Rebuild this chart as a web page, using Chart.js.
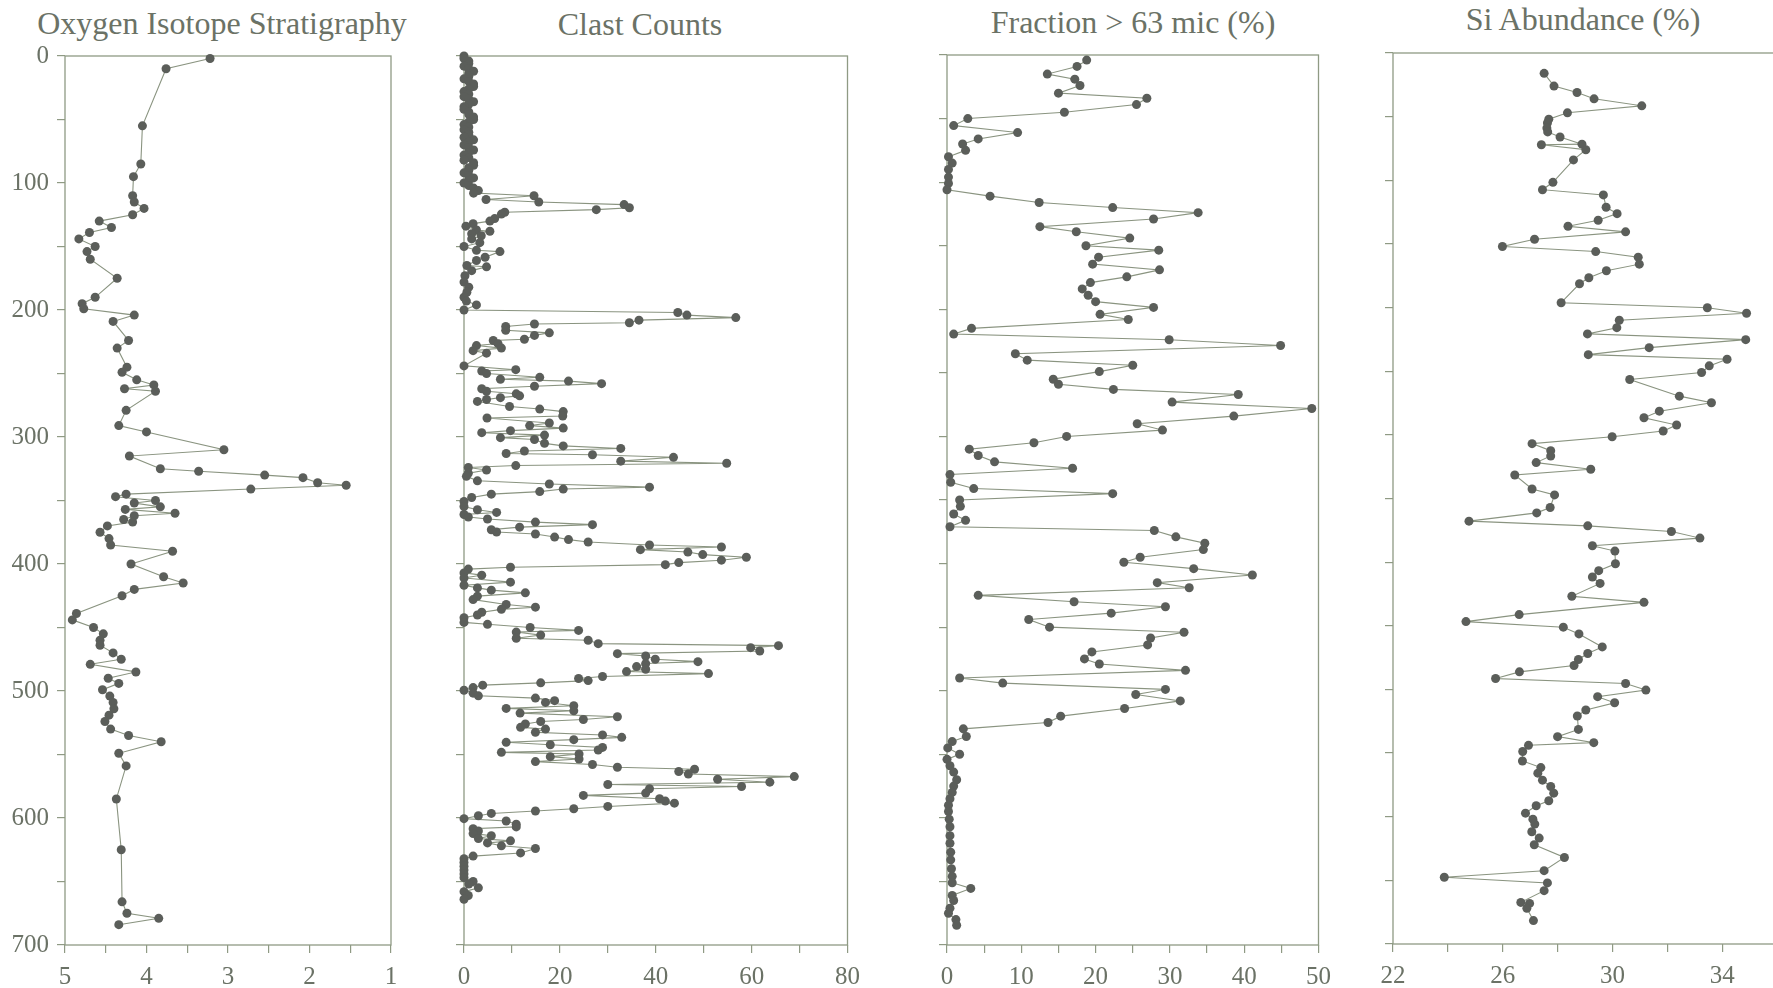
<!DOCTYPE html>
<html>
<head>
<meta charset="utf-8">
<script src="https://cdn.jsdelivr.net/npm/chart.js@4.4.0/dist/chart.umd.min.js"></script>
<style>
  html, body { margin: 0; padding: 0; background: #fff; overflow: hidden; width: 1773px; height: 988px; }
  canvas { position: absolute; }
  .title { position: absolute; font-family: 'Liberation Serif', serif; font-size: 32px; line-height: 32px;
           color: #6b7266; white-space: nowrap; transform: translateX(-50%); }
</style>
</head>
<body>
<div class="title" style="left:222px; top:7px">Oxygen Isotope Stratigraphy</div>
<div class="title" style="left:640px; top:8px">Clast Counts</div>
<div class="title" style="left:1133px; top:6px">Fraction &gt; 63 mic (%)</div>
<div class="title" style="left:1583px; top:3px">Si Abundance (%)</div>
<canvas id="c1"></canvas>
<canvas id="c2"></canvas>
<canvas id="c3"></canvas>
<canvas id="c4"></canvas>
<script>
// depth axis (shared by all four panels)
const depthLabels = [0, 100, 200, 300, 400, 500, 600, 700];

// oxygen isotope panel
const oxyTicks = [5, 4, 3, 2, 1];
const oxyDepth = [2,10,55,85,95,110,115,120,125,130,
  135,139,144,150,154,160,175,190,195,199,
  204,209,224,230,245,249,255,259,262,264,
  279,291,296,310,315,325,327,330,332,336,
  338,341,345,347,350,352,355,357,360,362,
  365,367,370,375,380,385,390,400,410,415,
  420,425,439,444,450,455,460,464,470,475,
  479,485,490,494,499,504,509,514,519,524,
  530,535,540,549,559,585,625,666,675,679,684];
const oxyValue = [3.22,3.76,4.05,4.07,4.16,4.17,4.15,4.03,4.17,4.58,
  4.43,4.70,4.83,4.63,4.73,4.69,4.36,4.63,4.79,4.77,
  4.15,4.41,4.22,4.36,4.24,4.30,4.12,3.91,4.27,3.89,
  4.25,4.34,4.00,3.05,4.21,3.83,3.36,2.55,2.08,1.90,
  1.55,2.72,4.25,4.38,3.89,4.15,3.83,4.26,3.65,4.15,
  4.28,4.17,4.48,4.57,4.46,4.44,3.68,4.19,3.79,3.55,
  4.15,4.30,4.86,4.91,4.65,4.53,4.57,4.57,4.41,4.31,
  4.69,4.13,4.47,4.34,4.54,4.45,4.41,4.40,4.46,4.51,
  4.44,4.22,3.82,4.34,4.25,4.37,4.31,4.30,4.24,3.85,4.34];

// clast counts panel
const clastTicks = [0, 20, 40, 60, 80];
const clastDepth = [0,2,4,6,8,10,12,14,16,18,
  20,22,24,26,28,30,32,34,36,38,
  40,42,44,46,48,50,52,54,56,58,
  60,62,64,66,68,70,72,74,76,78,
  80,82,84,86,88,90,92,94,96,98,
  100,102,104,106,108,
  110,113,115,117,119.5,121,123,124.5,128,130,
  132,134,137,138,140,141.5,144,147,150,153,
  154,158.5,161,165,166,169,173,178,182,186,
  190,193,196,200,202,204,206,208,210,211,
  213,216,218,220,223,224,226.5,228,230,232,
  234,244,247,248,250,253,254.5,256,258,260,
  262,264,266,267.6,269,270.5,272,276,278,280,
  283.5,285,289,291,293,295,296.6,298.5,300.5,302,
  305,307,309,311,313,314,316,319,320.7,322.5,
  324,326,328.5,331,334.5,337,339.5,341,343,345,
  347.6,350.8,354.7,357.3,359.4,361,363,364.6,367,369,
  371,373,374.8,376.4,378.8,380.8,382.7,385,386.6,388.7,
  390.6,392.6,394.7,397,398.9,400.5,402.6,404,407,408.8,
  411,414.3,416.7,418.8,420.6,422.7,425.3,428,431.9,434,
  435.7,438,440.2,442.3,446,447.5,450,452.3,453.6,456,
  458.5,460,462.7,464.3,465.9,468.5,470.6,472.4,475,476.9,
  478.4,480.8,482.9,484.7,486.3,488.6,490.2,491.8,493.6,495.4,
  497.3,499.4,501.7,503.8,505.6,507.6,509,511.6,513.7,515.6,
  517.4,520.3,522.4,524,526,528.6,530,532.5,534.6,536.5,
  538.3,540.4,542.3,544.4,546.5,548.3,549.6,551.7,553.5,555.6,
  557.9,560,561.6,563.4,565.4,567.4,569.5,571.8,573.6,575.2,
  577,580.4,582.2,584.8,586.7,588.3,590.9,592.7,594.5,596.4,
  598.2,600.5,602.4,604.9,607,608.4,610.2,612.3,614,616.2,
  618,619.6,621.9,624,627.5,630,632,635,638,641,
  644,647,650,652,655,658,661,664];
const clastValue = [0,0,1,1,0,1,2,1,1,0,
  1,2,2,1,0,1,0,1,2,1,
  0,0,1,1,2,2,1,0,1,0,
  1,1,0,2,1,0,1,2,1,0,
  1,0,2,2,1,1,0,1,2,1,
  0,1,2,3,2,
  14.6,4.6,15.6,33.4,34.5,27.6,8.5,7.8,6.4,5.4,
  1.9,0.4,2.6,5.4,1.6,3.6,1.6,3.3,0,2.6,
  7.5,4.4,2.6,0.6,4.7,1.6,0.2,0,1,0.6,
  0,0.5,2.6,0,44.6,46.5,56.7,36.5,34.5,14.7,
  8.7,8.7,17.8,14.7,12.6,6.1,7.1,2.6,7.8,1.9,
  4.7,0,10.8,3.7,4.7,15.8,7.6,21.8,28.7,14.7,
  3.7,4.7,10.9,11.6,7.6,4.7,2.8,9.5,15.8,20.7,
  20.6,4.8,17.8,13.7,20.7,9.7,3.7,16.8,7.6,14.7,
  16.8,20.7,32.7,12.6,8.8,26.8,43.7,32.7,54.8,10.8,
  0.9,4.7,0.9,0.5,2.8,17.8,38.7,20.7,15.8,5.7,
  1.6,0,0,2.8,6.8,0,0.9,4.9,14.9,26.8,
  11.6,5.7,6.8,14.9,18.9,21.8,25.9,38.7,53.7,36.8,
  46.7,49.8,58.9,53.7,44.8,42,9.7,0.9,0,3.7,
  0,9.7,0,2.8,5.7,12.8,2.8,1.9,8.8,14.9,
  7.8,3.7,2.8,0,0,4.9,13.8,23.9,10.9,16,
  10.9,25.9,28,65.6,59.8,61.7,32,37.9,39.9,48.8,
  37.9,36,37.9,33.9,51,28.9,23.9,25.9,16,3.9,
  1.9,0,1.9,3,14.9,18.9,17,22.9,8.8,22.9,
  11.7,32,24.9,16,12.8,11.8,17,14.9,28.9,32.9,
  22.9,8.8,18,28.9,28,7.8,24,18,24,14.9,
  26.8,32,48.1,44.8,46.8,68.9,52.9,63.8,30,57.9,
  38.7,37.9,24.9,40.8,42,43.9,30,22.9,14.9,5.7,
  3,0,8.8,10.9,10.9,1.9,3,1.9,5.7,3,
  9.7,4.9,7.8,14.9,11.8,1.9,0,0,0,0,
  0,0,1.9,1,3,0,0.9,0];

// fraction > 63 micron panel
const fracTicks = [0, 10, 20, 30, 40, 50];
const fracDepth = [4,9,15,19,24,30,34,39,45,50,
  55.5,61,66,70,75,80,85,90,96,101,
  106,111,116,120,124,129,135,139,144,150,
  153.5,159,164.5,169,174.5,179,184,189,194,198.5,
  204,208,215,219.5,224,228.5,235,240,244,249,
  255,259,263,267,273,278,284,290,295,300,
  305,310,315,320,325,330,336,341,345,350,
  355,361,366,371,374,379,384,389,395,399,
  404,409,415,419,425,430,434,439,444,450,
  454,458.5,464,469.5,475,479,484,490,494,499,
  503,508,514,520,525,530,536,540,545,550,
  554,559,564,570,575,580,585,590,595,601,
  607,614,620,627,633,640,646,651,655.5,661,
  665,671,675,680,684.5];
const fracValue = [18.8,17.5,13.5,17.2,17.9,15,26.9,25.5,15.8,2.8,
  0.9,9.5,4.2,2.1,2.5,0.2,0.7,0.2,0.2,0.2,
  0,5.8,12.4,22.3,33.8,27.8,12.5,17.4,24.6,18.7,
  28.5,20.4,19.6,28.6,24.2,19.3,18.2,19,20,27.8,
  20.6,24.4,3.3,0.9,29.9,44.9,9.2,10.8,25,20.5,
  14.3,15,22.4,39.2,30.3,49.1,38.6,25.6,29,16.1,
  11.7,3,4.2,6.4,16.9,0.4,0.5,3.6,22.3,1.7,
  1.8,0.9,2.5,0.4,27.9,30.8,34.7,34.5,26,23.8,
  33.2,41.1,28.3,32.6,4.2,17.1,29.4,22.1,11,13.8,
  31.9,27.4,27,19.5,18.5,20.5,32.1,1.7,7.5,29.4,
  25.4,31.4,23.9,15.3,13.6,2.2,2.6,0.7,0.1,1.7,
  0,0.4,0.9,1.3,0.9,0.7,0.4,0.2,0.2,0.3,
  0.4,0.4,0.4,0.5,0.5,0.6,0.7,0.7,3.2,0.7,
  0.9,0.4,0.2,1.2,1.3];

// Si abundance panel
const siTicks = [22, 26, 30, 34];
const siDepth = [16,26,31,36,41.5,47,52,55,59,62,
  66,71.6,72.1,76,84,101.6,107.4,111.5,121.2,126.2,
  131.4,136.1,140.5,146.3,152,156,160.4,165.9,171.1,176.6,
  181.3,196.2,200.1,204.5,210,215.8,220.7,225.2,231.5,237,
  240.6,245.8,251,256.5,269.6,274.8,281.4,286.6,292.3,297,
  301.5,306.9,312.4,316.6,321.8,327,331.5,342.5,347.2,357.1,
  361.3,367.8,371.5,375.9,381.1,387.1,391.3,401.3,406.7,411.7,
  416.7,426.8,431.6,441.2,446.7,451.1,456.4,466.6,471.8,476.5,
  481.2,486.2,491.4,495.3,500.5,505.7,510.5,516.2,520.9,531.4,
  537.1,541.8,543.9,548.8,556.2,561.4,565.8,571.3,576.3,581.5,
  587.5,591.4,597.2,601.9,605.8,611.8,616.8,622,632,642.4,
  647.6,652,658.1,667.3,668.1,672,681.6];
const siValue = [27.51,27.87,28.71,29.33,31.07,28.36,27.68,27.63,27.61,27.64,
  28.09,28.89,27.41,29.03,28.58,27.83,27.45,29.67,29.77,30.17,
  29.48,28.38,30.48,27.16,25.99,29.39,30.94,30.98,29.78,29.14,
  28.8,28.13,33.46,34.89,30.25,30.16,29.09,34.86,31.34,29.12,
  34.18,33.53,33.25,30.63,32.44,33.61,31.71,31.15,32.34,31.85,
  29.99,27.07,27.75,27.75,27.22,29.21,26.44,27.07,27.89,27.73,
  27.24,24.77,29.1,32.15,33.19,29.27,30.09,30.11,29.5,29.27,
  29.55,28.52,31.15,26.6,24.66,28.21,28.78,29.63,29.1,28.76,
  28.6,26.61,25.74,30.48,31.22,29.46,30.08,29.03,28.72,28.76,
  28.0,29.32,26.94,26.73,26.72,27.39,27.28,27.45,27.75,27.86,
  27.68,27.22,26.83,27.1,27.17,27.06,27.33,27.15,28.25,27.51,
  23.87,27.63,27.51,26.66,26.98,26.88,27.12];

const TEXT = '#6b7266';
const AXIS = '#8f9a84';
const DOT = '#5b5e5a';
const LINE = '#8a9480';
const FONT = {family: "'Liberation Serif', serif", size: 25};

// frame round the plot area (top and right sides included)
const framePlugin = {
  id: 'frame',
  beforeDatasetsDraw(chart) {
    const {ctx, chartArea: a} = chart;
    ctx.save();
    ctx.strokeStyle = AXIS;
    ctx.lineWidth = 1.3;
    ctx.strokeRect(a.left, a.top, a.right - a.left, a.bottom - a.top);
    ctx.restore();
  }
};

function makePanel(id, rect, depth, values, x, showDepthLabels) {
  const yW = 56, padT = 20, padR = 20, padB = 4, xH = 46;
  const cv = document.getElementById(id);
  const w = rect.R - rect.L + yW + padR;
  const h = rect.B - rect.T + xH + padT + padB;
  cv.width = w; cv.height = h;
  cv.style.width = w + 'px'; cv.style.height = h + 'px';
  cv.style.left = (rect.L - yW) + 'px';
  cv.style.top = (rect.T - padT) + 'px';

  const pts = depth.map((d, i) => ({x: values[i], y: d}));
  const grid = {display: true, drawOnChartArea: false, drawTicks: true, tickLength: 8, color: AXIS, lineWidth: 1.2};

  return new Chart(cv, {
    type: 'scatter',
    data: {
      datasets: [{
        data: pts,
        showLine: true,
        borderColor: LINE,
        borderWidth: 1.1,
        pointRadius: 4.5,
        pointHoverRadius: 4.5,
        pointBackgroundColor: DOT,
        pointBorderWidth: 0,
        clip: false
      }]
    },
    options: {
      responsive: false,
      animation: false,
      layout: {padding: {left: 0, top: padT, right: padR, bottom: padB}},
      plugins: {legend: {display: false}, tooltip: {enabled: false}},
      scales: {
        x: {
          type: 'linear', min: x.min, max: x.max, reverse: !!x.reverse,
          grid: grid, border: {display: false},
          afterFit: s => { s.height = xH; },
          ticks: {
            stepSize: x.step, autoSkip: false, maxRotation: 0, padding: 9,
            color: TEXT, font: FONT,
            callback: v => x.labels.some(l => Math.abs(l - v) < 1e-6) ? String(v) : ''
          }
        },
        y: {
          type: 'linear', min: 0, max: 700, reverse: true,
          grid: grid, border: {display: false},
          afterFit: s => { s.width = yW; },
          ticks: {
            stepSize: 50, autoSkip: false, padding: 8,
            color: TEXT, font: FONT,
            callback: v => (showDepthLabels && depthLabels.includes(v)) ? String(v) : ''
          }
        }
      }
    },
    plugins: [framePlugin]
  });
}

makePanel('c1', {L: 65, R: 391, T: 53, B: 945}, oxyDepth, oxyValue,
  {min: 1, max: 5, step: 0.5, reverse: true, labels: oxyTicks}, true);
makePanel('c2', {L: 464, R: 849, T: 53, B: 945}, clastDepth, clastValue,
  {min: 0, max: 80, step: 10, labels: clastTicks}, false);
makePanel('c3', {L: 947, R: 1320, T: 52, B: 945}, fracDepth, fracValue,
  {min: 0, max: 50, step: 5, labels: fracTicks}, false);
makePanel('c4', {L: 1393, R: 1777, T: 50, B: 944}, siDepth, siValue,
  {min: 22, max: 36, step: 2, labels: siTicks}, false);
</script>
</body>
</html>
